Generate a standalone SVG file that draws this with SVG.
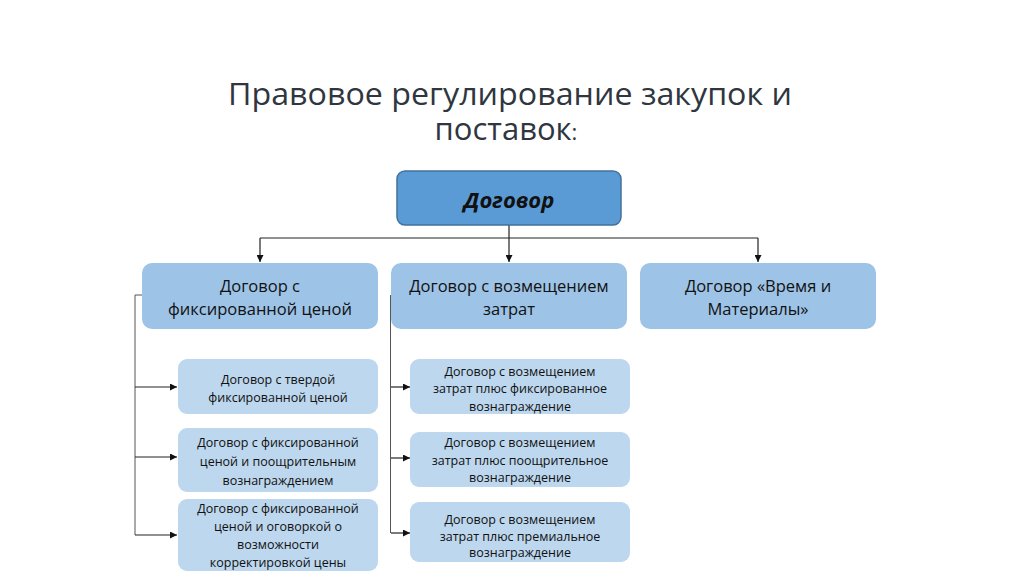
<svg xmlns="http://www.w3.org/2000/svg" width="1024" height="574" viewBox="0 0 1024 574">
<defs>
<marker id="arr" viewBox="0 0 10 10" refX="10" refY="5" markerWidth="7" markerHeight="7" markerUnits="userSpaceOnUse" orient="auto">
<path d="M0,0 L10,5 L0,10 z" fill="#111"/>
</marker>
<style>
.title{font-family:"Open Sans","Noto Sans",sans-serif;font-size:31px;fill:#2f3640;text-anchor:middle}
.top{fill:#5b9bd5;stroke:#41719c;stroke-width:1.5}
.mid{fill:#9dc3e6}
.child{fill:#bdd7ee}
.t1{font-family:"Open Sans","Noto Sans",sans-serif;font-weight:bold;font-style:italic;font-size:22px;fill:#111;text-anchor:middle}
.t2{font-family:"Open Sans","Noto Sans",sans-serif;font-size:16.5px;fill:#111;text-anchor:middle}
.t3{font-family:"Open Sans","Noto Sans",sans-serif;font-size:12.5px;fill:#111;text-anchor:middle}
.ln{fill:none;stroke:#222;stroke-width:1.2}
.ln2{fill:none;stroke:#555;stroke-width:1}
</style>
</defs>
<rect width="1024" height="574" fill="#fff"/>
<g id="title">
<text class="title" x="510" y="105" textLength="564" lengthAdjust="spacingAndGlyphs">Правовое регулирование закупок и</text>
<text class="title" x="506" y="140">поставок<tspan font-size="22">:</tspan></text>
</g>
<g id="connectors">
<path class="ln" d="M509,225 V262" marker-end="url(#arr)"/>
<path class="ln" d="M260,238 H758"/>
<path class="ln" d="M260,238 V262" marker-end="url(#arr)"/>
<path class="ln" d="M758,238 V262" marker-end="url(#arr)"/>
<path class="ln2" d="M142,295 H135 V535"/>
<path class="ln" d="M135,387 H177" marker-end="url(#arr)"/>
<path class="ln" d="M135,457 H177" marker-end="url(#arr)"/>
<path class="ln" d="M135,535 H177" marker-end="url(#arr)"/>
<path class="ln2" d="M390.5,295 V533"/>
<path class="ln" d="M391,387 H410" marker-end="url(#arr)"/>
<path class="ln" d="M391,458 H410" marker-end="url(#arr)"/>
<path class="ln" d="M391,533 H410" marker-end="url(#arr)"/>
</g>
<g id="n-dogovor">
<rect class="top" x="397" y="171" width="224" height="54" rx="8"/>
<text class="t1" x="509" y="208">Договор</text>
</g>
<g id="n-fixed">
<rect class="mid" x="142" y="263" width="236" height="66" rx="10"/>
<text class="t2" x="260" y="292">Договор с</text>
<text class="t2" x="260" y="315">фиксированной ценой</text>
</g>
<g id="n-cost">
<rect class="mid" x="391" y="263" width="236" height="66" rx="10"/>
<text class="t2" x="509" y="292">Договор с возмещением</text>
<text class="t2" x="509" y="315">затрат</text>
</g>
<g id="n-tm">
<rect class="mid" x="640" y="263" width="236" height="66" rx="10"/>
<text class="t2" x="758" y="292">Договор «Время и</text>
<text class="t2" x="758" y="315">Материалы»</text>
</g>
<g id="n-firm">
<rect class="child" x="178" y="359" width="200" height="55" rx="9"/>
<text class="t3" x="278" y="384">Договор с твердой</text>
<text class="t3" x="278" y="402">фиксированной ценой</text>
</g>
<g id="n-fixed-incentive">
<rect class="child" x="178" y="428" width="200" height="64" rx="9"/>
<text class="t3" x="278" y="447">Договор с фиксированной</text>
<text class="t3" x="278" y="466">ценой и поощрительным</text>
<text class="t3" x="278" y="485">вознаграждением</text>
</g>
<g id="n-fixed-adjust">
<rect class="child" x="178" y="499" width="200" height="72" rx="9"/>
<text class="t3" x="278" y="513">Договор с фиксированной</text>
<text class="t3" x="278" y="531">ценой и оговоркой о</text>
<text class="t3" x="278" y="549">возможности</text>
<text class="t3" x="278" y="567">корректировкой цены</text>
</g>
<g id="n-cost-fixed">
<rect class="child" x="410" y="359" width="220" height="55" rx="9"/>
<text class="t3" x="520" y="376">Договор с возмещением</text>
<text class="t3" x="520" y="393">затрат плюс фиксированное</text>
<text class="t3" x="520" y="411">вознаграждение</text>
</g>
<g id="n-cost-incentive">
<rect class="child" x="410" y="432" width="220" height="55" rx="9"/>
<text class="t3" x="520" y="447">Договор с возмещением</text>
<text class="t3" x="520" y="465">затрат плюс поощрительное</text>
<text class="t3" x="520" y="482">вознаграждение</text>
</g>
<g id="n-cost-premium">
<rect class="child" x="410" y="502" width="220" height="60" rx="9"/>
<text class="t3" x="520" y="524">Договор с возмещением</text>
<text class="t3" x="520" y="541">затрат плюс премиальное</text>
<text class="t3" x="520" y="557">вознаграждение</text>
</g>
</svg>
